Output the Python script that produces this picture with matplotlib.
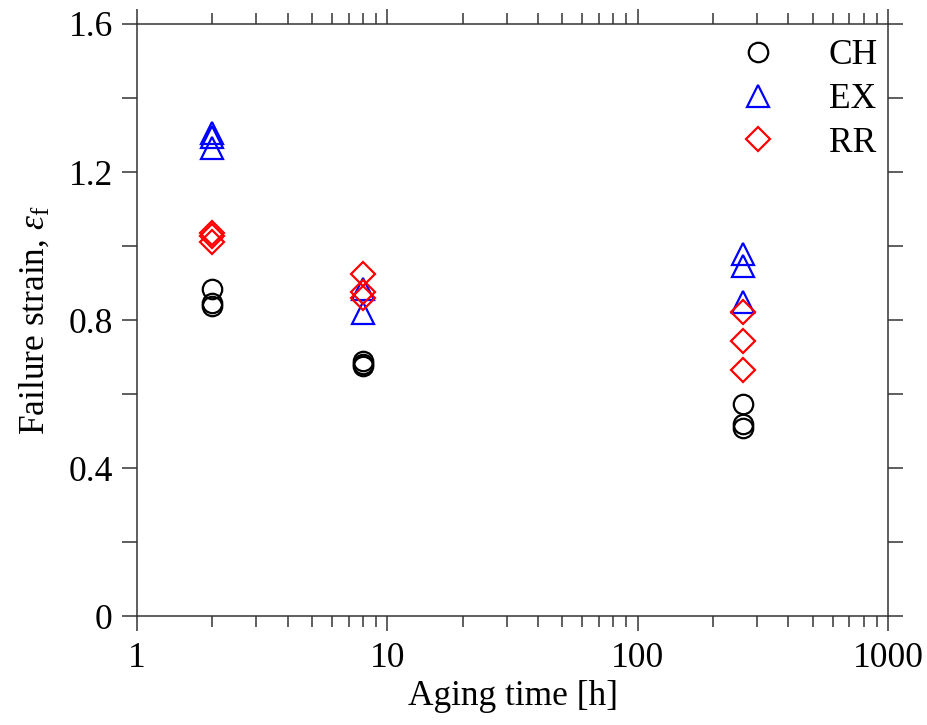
import numpy as np
import matplotlib
matplotlib.use("Agg")
import matplotlib.pyplot as plt
from matplotlib.ticker import FixedLocator, FuncFormatter, LogLocator, NullFormatter

plt.rcParams['font.family'] = ['Liberation Serif', 'DejaVu Serif']
plt.rcParams['mathtext.fontset'] = 'custom'
plt.rcParams['mathtext.rm'] = 'Liberation Serif'
plt.rcParams['mathtext.it'] = 'Liberation Serif:italic'

# Failure strain vs. aging time for the three processing routes
ch_time = [2, 2, 2, 8, 8, 8, 264, 264, 264]
ch_strain = [0.885, 0.845, 0.838, 0.690, 0.682, 0.676, 0.572, 0.520, 0.508]

ex_time = [2, 2, 2, 8, 8, 264, 264, 264]
ex_strain = [1.305, 1.295, 1.265, 0.885, 0.820, 0.978, 0.945, 0.848]

rr_time = [2, 2, 2, 8, 8, 8, 264, 264, 264]
rr_strain = [1.035, 1.028, 1.010, 0.925, 0.875, 0.860, 0.822, 0.742, 0.665]

y_ticks = [0, 0.4, 0.8, 1.2, 1.6]
x_ticks = [1, 10, 100, 1000]

fs = 25.5

fig = plt.figure(figsize=(9.27, 7.25), dpi=100)
ax = fig.add_axes([0.1478, 0.1503, 0.8102, 0.8166])

ax.plot(ch_time, ch_strain, 'o', ms=14, mfc='none', mec='black', mew=1.6,
        label='CH', linestyle='none')
ax.plot(ex_time, ex_strain, '^', ms=15.5, mfc='none', mec='#0000ff', mew=1.6,
        label='EX', linestyle='none')
ax.plot(rr_time, rr_strain, 'D', ms=12.3, mfc='none', mec='#ff0000', mew=1.6,
        label='RR', linestyle='none')

ax.set_xscale('log')
ax.set_xlim(1, 1000)
ax.set_ylim(0, 1.6)

ax.xaxis.set_major_locator(FixedLocator(x_ticks))
ax.xaxis.set_major_formatter(FuncFormatter(lambda v, p: f'{v:g}'))
ax.xaxis.set_minor_locator(LogLocator(base=10, subs=np.arange(2, 10)))
ax.xaxis.set_minor_formatter(NullFormatter())

ax.yaxis.set_major_locator(FixedLocator(y_ticks))
ax.yaxis.set_major_formatter(FuncFormatter(lambda v, p: '0' if v == 0 else f'{v:.1f}'))
ax.yaxis.set_minor_locator(FixedLocator([0.2, 0.6, 1.0, 1.4]))

ax.tick_params(which='both', direction='out', top=True, right=True,
               width=1.1, color='#333333', labelsize=fs)
ax.tick_params(axis='x', which='major', length=10.5, pad=8)
ax.tick_params(axis='x', which='minor', length=8)
ax.tick_params(axis='y', which='both', length=10.5, pad=7)
for s in ax.spines.values():
    s.set_linewidth(1.1)
    s.set_color('#333333')

ax.set_xlabel('Aging time [h]', fontsize=fs, labelpad=4)
ax.set_ylabel(r'Failure strain, $\varepsilon_\mathrm{f}$', fontsize=fs, labelpad=12)

ax.legend(loc='upper right', frameon=False, fontsize=fs, numpoints=1,
          handlelength=2.0, handletextpad=1.0, labelspacing=0.3,
          borderaxespad=0.2, bbox_to_anchor=(1.015, 1.01))

fig.savefig('out.png', dpi=100)
